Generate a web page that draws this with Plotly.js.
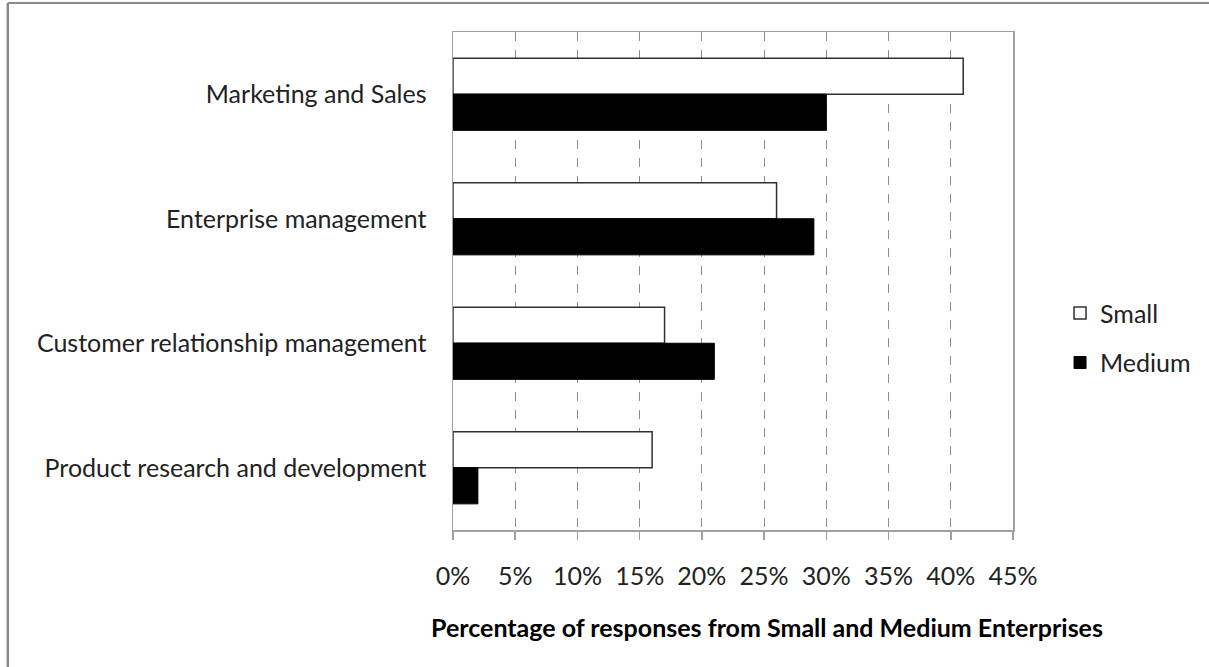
<!DOCTYPE html>
<html>
<head>
<meta charset="utf-8">
<script src="https://cdn.plot.ly/plotly-3.0.1.min.js"></script>
<style>
  html, body { margin: 0; padding: 0; background: #fff; }
  #chart { width: 1209px; height: 667px; }
</style>
</head>
<body>
<div id="chart"></div>
<script>
const categories = [
  "Marketing and Sales",
  "Enterprise management",
  "Customer relationship management",
  "Product research and development"
];
const smallValues = [0.41, 0.26, 0.17, 0.16];
const mediumValues = [0.30, 0.29, 0.21, 0.02];
const tickValues = [0, 0.05, 0.10, 0.15, 0.20, 0.25, 0.30, 0.35, 0.40, 0.45];
const tickLabels = ["0%", "5%", "10%", "15%", "20%", "25%", "30%", "35%", "40%", "45%"];
const xTitle = "Percentage of responses from Small and Medium Enterprises";

const FONT = "Lato, 'Open Sans', sans-serif";

const traces = [
  {
    type: "bar", orientation: "h", name: "Small",
    y: categories, x: smallValues,
    marker: { color: "#ffffff", line: { color: "#303030", width: 1.5 } },
    legendgroup: "s", hoverinfo: "x+y"
  },
  {
    type: "bar", orientation: "h", name: "Medium",
    y: categories, x: mediumValues,
    marker: { color: "#000000", line: { color: "#000000", width: 1 } },
    legendgroup: "m", hoverinfo: "x+y"
  }
];

const layout = {
  width: 1209, height: 667,
  margin: { l: 453, r: 196, t: 32, b: 137, autoexpand: false },
  paper_bgcolor: "#ffffff", plot_bgcolor: "#ffffff",
  font: { family: FONT, size: 25, color: "#222222" },
  barmode: "group",
  bargap: 0.42,
  bargroupgap: 0,
  showlegend: true,
  legend: {
    x: 1.084, xanchor: "left", y: 0.386, yanchor: "middle",
    traceorder: "grouped", tracegroupgap: 14,
    font: { family: FONT, size: 25, color: "#222222" },
    itemwidth: 30
  },
  xaxis: {
    range: [0, 0.45], automargin: false,
    tickvals: tickValues, ticktext: tickLabels,
    ticks: "outside", ticklen: 8, tickcolor: "#a0a0a0", tickwidth: 1.5,
    ticklabelstandoff: 15,
    showline: true, linecolor: "#a0a0a0", linewidth: 1.5, mirror: true,
    showgrid: true, gridcolor: "#8c8c8c", gridwidth: 1, griddash: "dash",
    zeroline: false, fixedrange: true,
    tickfont: { family: FONT, size: 25, color: "#222222" }
  },
  yaxis: {
    type: "category", automargin: false,
    categoryorder: "array", categoryarray: categories,
    autorange: "reversed",
    showline: true, linecolor: "#a0a0a0", linewidth: 1.5, mirror: true,
    ticks: "", ticklabelstandoff: 20,
    showgrid: false, zeroline: false, fixedrange: true,
    tickfont: { family: FONT, size: 25, color: "#222222" }
  },
  annotations: [
    {
      xref: "paper", yref: "paper",
      x: 0.561, y: -0.195, xanchor: "center", yanchor: "middle",
      text: "<b>" + xTitle + "</b>", showarrow: false,
      font: { family: FONT, size: 25, color: "#000000" }
    }
  ],
  shapes: [
    { type: "line", xref: "paper", yref: "paper",
      x0: -0.795, x1: 1.36, y0: 1.058, y1: 1.058,
      line: { color: "#8a8a8a", width: 2 } },
    { type: "line", xref: "paper", yref: "paper",
      x0: -0.795, x1: -0.795, y0: 1.058, y1: -0.28,
      line: { color: "#8a8a8a", width: 2.5 } }
  ]
};

Plotly.newPlot("chart", traces, layout, { displayModeBar: false, staticPlot: true });
</script>
</body>
</html>
